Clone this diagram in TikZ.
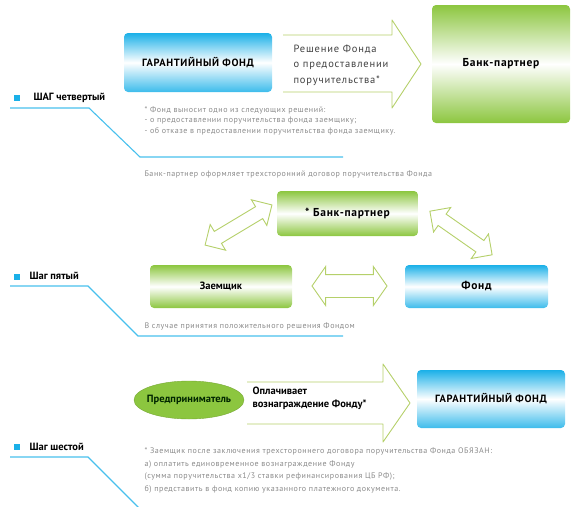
\documentclass[tikz,border=0pt]{standalone}
\usepackage{fontspec}
\setmainfont{PT Sans}
\newfontfamily\notefont[LetterSpace=7]{PT Sans}
\newfontfamily\boxfont[LetterSpace=6]{PT Sans}
\newfontfamily\arrowfont[LetterSpace=8]{PT Sans}
\usepackage{xcolor}
\usetikzlibrary{shapes.arrows,shapes.geometric}

\definecolor{fondblue}{HTML}{1AB0E8}
\definecolor{bankgreen}{HTML}{8CC63F}
\definecolor{arrowgreen}{HTML}{B5D06A}
\definecolor{notegray}{HTML}{8A8A8A}

\tikzset{
	bluebox/.style={rounded corners=4pt,top color=fondblue,bottom color=fondblue!85,middle color=white,
		font=\boxfont\bfseries\fontsize{10.5}{12}\selectfont,inner sep=0pt},
	greenbox/.style={rounded corners=4pt,top color=bankgreen,bottom color=bankgreen,middle color=white,
		font=\boxfont\bfseries\fontsize{11.5}{13}\selectfont,inner sep=0pt},
	twoway/.style={double arrow,draw=arrowgreen,fill=white,line width=0.9pt,inner xsep=0pt},
	steptitle/.style={anchor=west,font=\bfseries\fontsize{10.5}{12}\selectfont},
	note/.style={text=notegray,font=\notefont\fontsize{8}{12}\selectfont,align=left},
	stepline/.style={draw=fondblue!80,line width=1.1pt},
	bullet/.style={fill=fondblue,minimum size=6pt,inner sep=0pt}
}

\begin{document}
\begin{tikzpicture}[x=1pt,y=-1pt]
	\useasboundingbox (0,0) rectangle (575,506);
	
	% step four
	\node (garant1)[bluebox,minimum width=148pt,minimum height=59pt] at (198,62.5) {ГАРАНТИЙНЫЙ ФОНД};
	\node (bank1)[greenbox,minimum width=138pt,minimum height=118pt] at (501,64) {Банк-партнер};
	
	\draw[arrowgreen,line width=0.9pt,line join=round] 
	(283,35) -- (392,35) -- (392,20) -- (421,64) -- (392,108) -- (392,92) -- (283,92);
	\node (decision)[anchor=west,align=left,text=black!75,
		font=\arrowfont\fontsize{10.5}{15.5}\selectfont] at (290,65)
	{Решение Фонда\\о предоставлении\\поручительства*};
	
	\node (b4)[bullet] at (17,98) {};
	\node (step4)[steptitle] at (30,98) {ШАГ четвертый};
	\draw[stepline] (10,108) -- (89,108) -- (140,157) -- (343,157);
	
	\node (note4)[note,anchor=north west,font=\notefont\fontsize{8}{10.5}\selectfont] at (141,103)
	{* Фонд выносит одно из следующих решений:\\
	- о предоставлении поручительства фонда заемщику;\\
	- об отказе в предоставлении поручительства фонда заемщику.};
	\node (contract)[note,anchor=west] at (141,174)
	{Банк-партнер оформляет трехсторонний договор поручительства Фонда};
	
	% step five
	\node (bank2)[greenbox,minimum width=141pt,minimum height=45pt] at (347.5,213.5) {* Банк-партнер};
	\node (zaem)[greenbox,minimum width=142pt,minimum height=43pt,
		font=\bfseries\fontsize{10.5}{12}\selectfont] at (221,286.5) {Заемщик};
	\node (fond)[bluebox,minimum width=143pt,minimum height=43pt,
		font=\boxfont\bfseries\fontsize{11.5}{13}\selectfont] at (476.5,286.5) {Фонд};
	
	\node (da1)[twoway,rotate=31,minimum height=78pt,inner ysep=6.5pt,
		double arrow head extend=8pt] at (238.5,225) {};
	\node (da2)[twoway,rotate=-35,minimum height=76pt,inner ysep=6.5pt,
		double arrow head extend=8pt] at (461,233) {};
	\node (da3)[twoway,minimum height=75pt,inner ysep=11pt,
		double arrow head extend=8pt,double arrow tip angle=110] at (349.5,286) {};
	
	\node (b5)[bullet] at (17,277) {};
	\node (step5)[steptitle] at (26,276) {Шаг пятый};
	\draw[stepline] (10,286) -- (88,286) -- (138,336) -- (343,336);
	
	\node (note5)[note,anchor=west] at (141,326)
	{В случае принятия положительного решения Фондом};
	
	% step six
	\node (predpr)[ellipse,fill=bankgreen,draw=bankgreen!85!black,line width=0.4pt,
		minimum width=110pt,minimum height=38pt] at (189,400) {};
	\node (predprtext)[font=\bfseries\fontsize{10.5}{12}\selectfont,text=black!85!green]
		at (predpr.center) {Предприниматель};
	\node (garant2)[bluebox,minimum width=148pt,minimum height=58pt] at (491,399) {ГАРАНТИЙНЫЙ ФОНД};
	
	\draw[arrowgreen,line width=0.9pt,line join=round] 
	(247,382) -- (383,382) -- (383,364) -- (410,403) -- (383,442) -- (383,424) -- (247,424);
	\node (pay)[anchor=west,align=left,font=\bfseries\fontsize{10.5}{13}\selectfont] at (249,398)
	{Оплачивает\\вознаграждение Фонду*};
	
	\node (b6)[bullet] at (17,447) {};
	\node (step6)[steptitle] at (26,447) {Шаг шестой};
	\draw[stepline] (10,457) -- (88,457) -- (139,508);
	
	\node (note6)[note,anchor=north west,font=\notefont\fontsize{8}{12.8}\selectfont] at (141,444)
	{* Заемщик после заключения трехстороннего договора поручительства Фонда ОБЯЗАН:\\
	а) оплатить единовременное вознаграждение Фонду\\
	(сумма поручительства х1/3 ставки рефинансирования ЦБ РФ);\\
	б) представить в фонд копию указанного платежного документа.};
\end{tikzpicture}
\end{document}
